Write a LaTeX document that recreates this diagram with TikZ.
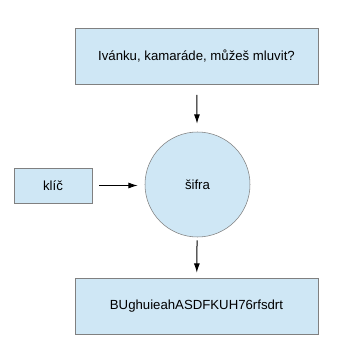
\documentclass[tikz,border=0pt]{standalone}
\usepackage{fontspec}
\setmainfont{Liberation Sans}
\usetikzlibrary{arrows.meta}
\definecolor{boxfill}{RGB}{207,231,245}
\definecolor{boxline}{RGB}{128,128,128}
\tikzset{
	box/.style={draw=boxline, fill=boxfill, rectangle, inner sep=0pt},
	disc/.style={draw=boxline, fill=boxfill, circle, inner sep=0pt, minimum size=78.75pt},
	arr/.style={-{Latex[length=7pt,width=4.5pt]}, black, line width=0.75pt}
}
\begin{document}
\begin{tikzpicture}[x=0.75pt, y=-0.75pt, font=\fontsize{9.9}{12}\selectfont]
	\useasboundingbox (0,0) rectangle (357,359);
	\node[box, minimum width=182.25pt, minimum height=42pt] (msg) at (196.5,56.5) {Ivánku, kamaráde, můžeš mluvit?};
	\node[disc] (sifra) at (197.5,184.5) {šifra};
	\node[box, minimum width=58.5pt, minimum height=26.25pt] (klic) at (53,185.5) {klíč};
	\node[box, minimum width=182.25pt, minimum height=42pt] (out) at (196.5,306) {BUghuieahASDFKUH76rfsdrt};
	\draw[arr, shorten <=7.5pt, shorten >=6pt] (msg) -- (sifra);
	\draw[arr, shorten <=5.25pt, shorten >=5.25pt] (klic) -- (sifra.west |- klic);
	\draw[arr, shorten <=2.25pt, shorten >=3.75pt] (sifra) -- (out);
\end{tikzpicture}
\end{document}
